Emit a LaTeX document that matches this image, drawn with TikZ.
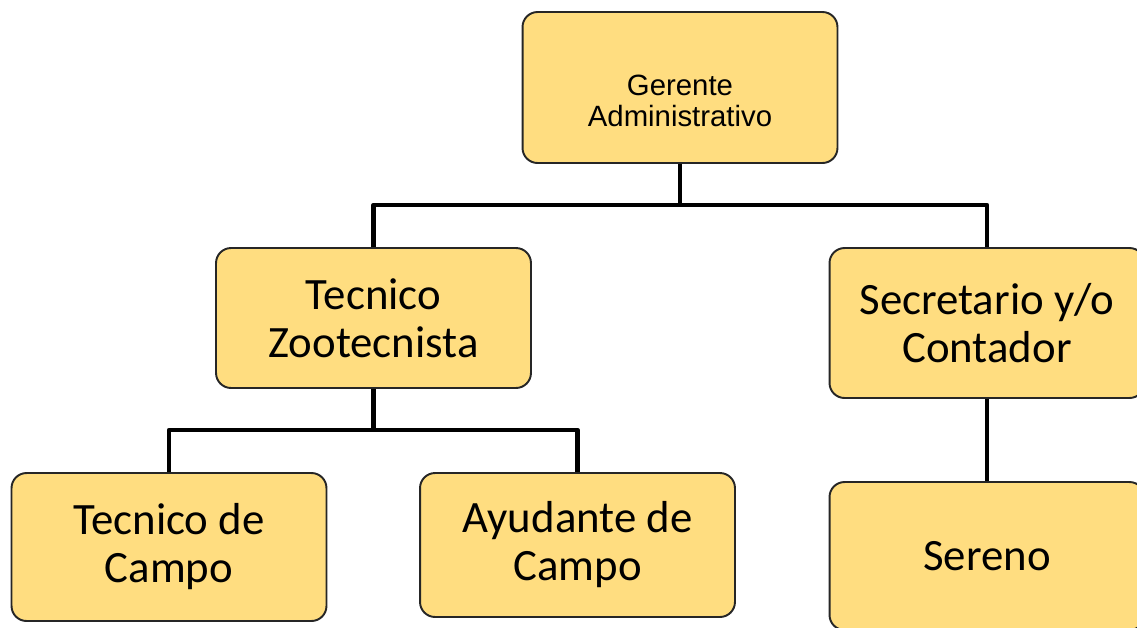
\documentclass[tikz,border=0pt]{standalone}
\usepackage{fontspec}
\setmainfont{Carlito}
\newfontfamily\arialfont{Liberation Sans}
\definecolor{boxfill}{RGB}{255,221,128}
\begin{document}
\begin{tikzpicture}[x=.02cm,y=-.02cm,line join=round,
	puesto/.style={draw=black!85,line width=1.1pt,fill=boxfill,rounded corners=.3cm,
		align=center,inner sep=0pt,minimum width=6.3cm,font=\fontsize{25.5}{27.3}\selectfont},
	enlace/.style={line width=2.6pt}]
	\useasboundingbox (0,0) rectangle (1137,627);
	% nodos
	\node[puesto,minimum height=3.02cm,font=\arialfont\fontsize{16.7}{18}\selectfont] (gerente) at (680,87.5)
	{\raisebox{-.34cm}[\height][\depth]{\begin{tabular}{@{}c@{}}Gerente\\Administrativo\end{tabular}}};
	\node[puesto,minimum height=2.8cm] (zoo) at (373.5,318) {Tecnico\\Zootecnista};
	\node[puesto,minimum height=3cm] (sec) at (987,323) {Secretario y/o\\Contador};
	\node[puesto,minimum height=2.96cm] (campo) at (169,547) {Tecnico de\\Campo};
	\node[puesto,minimum height=2.88cm] (ayud) at (577.5,545) {Ayudante de\\Campo};
	\node[puesto,minimum height=2.96cm] (sereno) at (987,556) {Sereno};
	\path (680,205) coordinate (j1)
	(373.5,430) coordinate (j2);
	% enlaces
	\draw[enlace] (gerente.south) -- (j1) (zoo.north) |- (j1) -| (sec.north);
	\draw[enlace] (zoo.south) -- (j2) (campo.north) |- (j2) -| (ayud.north);
	\draw[enlace] (sec.south) -- (sereno.north);
\end{tikzpicture}
\end{document}
